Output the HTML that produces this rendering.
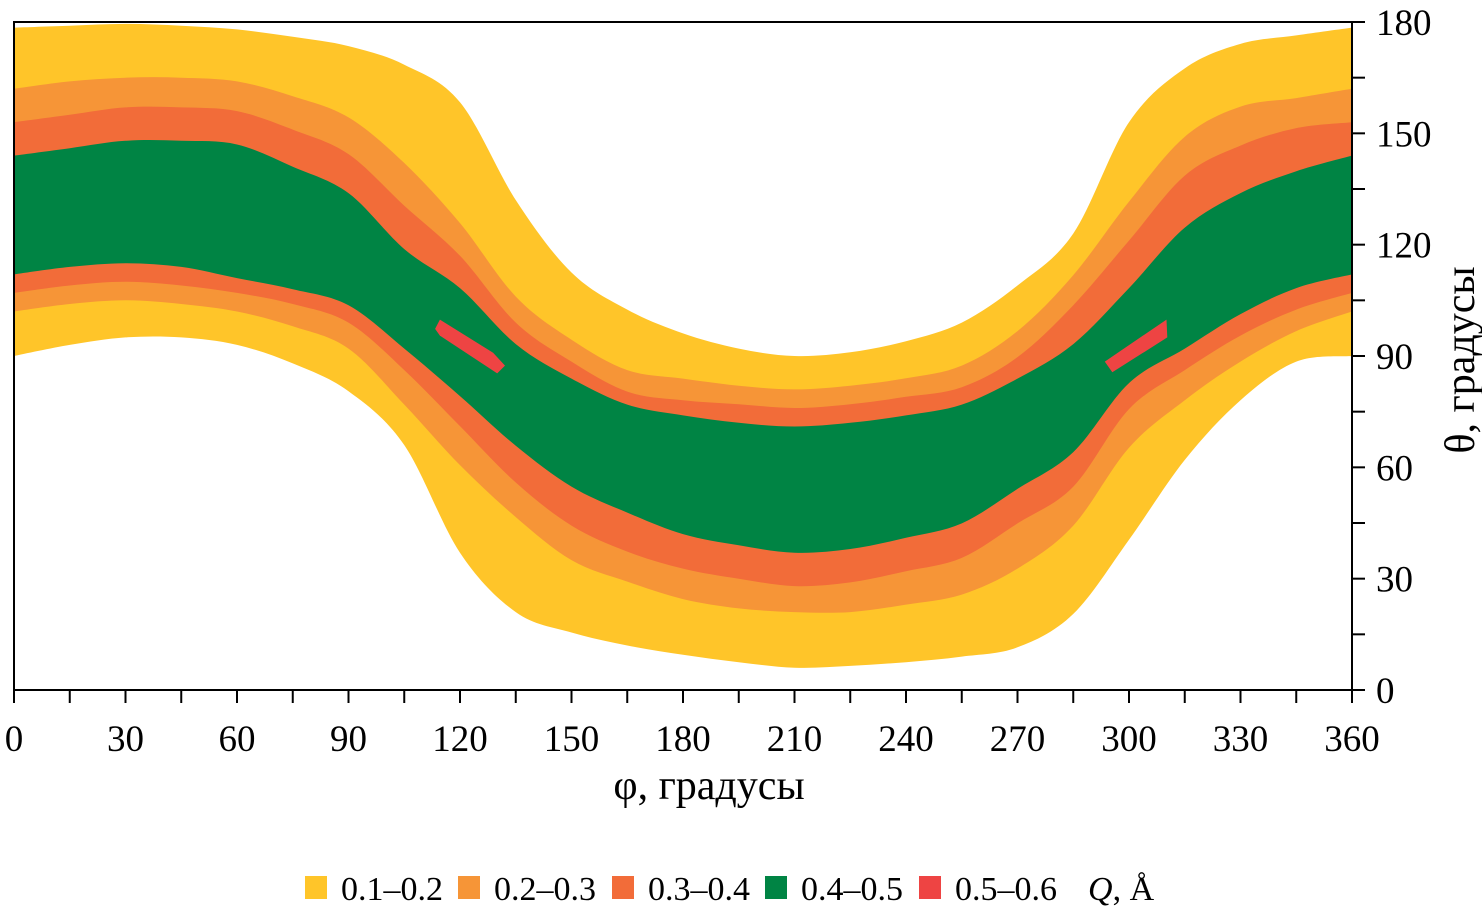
<!DOCTYPE html>
<html><head><meta charset="utf-8"><style>
html,body{margin:0;padding:0;background:#fff;}
svg{display:block;font-family:"Liberation Serif",serif;}
</style></head><body>
<svg id="chart" width="1482" height="911" viewBox="0 0 1482 911" xmlns="http://www.w3.org/2000/svg">
<g id="bands"></g>
<g id="axes"></g>
<g id="legend"></g>
</svg>
<script>
const phi = [0,15,30,45,60,75,90,105,120,135,150,165,180,195,210,225,240,255,270,285,300,315,330,345,360];
const yellowTop    = [178.5,179,179.5,179,178,176,173.5,168.5,158.4,132,112.5,102.5,96.1,92,90,91,94,99,109,123,153,167.5,174.1,176.4,178.5];
const orangeTop    = [162,164,165,165,164,160,154.3,142,125.8,106,94.4,86.2,83.9,82,81,82,84,87.4,96.7,111.8,131.6,149.1,157.2,159.5,162];
const redOrangeTop = [153,155,157,157,156,151,144.4,130.5,117,99,88.5,80.4,78.1,77,76,77,79,81.6,89.7,103.7,121.1,138.6,146.7,151.4,153];
const greenTop     = [144,146,148,148,147,141,133.9,118.8,108.3,93.2,83.9,76.9,74,72,71,72,74,76.9,83.9,93.2,108.3,124.6,133.9,139.8,144];
const greenBottom  = [112,114,115,114,111,108,103.7,92,79.2,65.8,54.8,47.8,42,39,37,38,41,44.9,54.2,64.1,82.7,92,101.3,108.3,112];
const redOrangeBottom = [107,109,110,109,107,104,99,86.2,71.1,55.9,44.3,37.3,32.7,30,28,29,32,35.6,44.9,54.8,75.7,86.2,95.5,102.5,107];
const orangeBottom = [102,104,105,104,102,98,92,76.9,60.6,46.6,35,29.2,24.5,22,21,21,23,25.7,32.7,44.3,65.3,78.1,88.5,96.7,102];
const yellowBottom = [90,93,95,95,93,88,80.5,66,37,21,15.5,12,9.5,7.5,6,6.5,7.5,9,11.5,20.5,40.5,62,78.1,88.5,90];
const peak1Phi = [113.3,114.6,128.9,132.1,130,114.6];
const peak1Theta = [97.3,99.8,90.9,87.4,85.3,95.5];
const peak2Phi = [293.5,310.1,310.3,295.5];
const peak2Theta = [88.5,99.8,95,85.6];
const xTicks = [0,30,60,90,120,150,180,210,240,270,300,330,360];
const yTicks = [0,30,60,90,120,150,180];
const legendLabels = ["0.1–0.2","0.2–0.3","0.3–0.4","0.4–0.5","0.5–0.6"];
const colors = ["#FFC529","#F69537","#F26C39","#008444","#EE4443"];

const X0=14, X1=1352, Y0=690, Y1=22;
const xs = v => X0 + v/360*(X1-X0);
const ys = v => Y0 - v/180*(Y0-Y1);
const NS="http://www.w3.org/2000/svg";
function mk(tag, attrs, parent){const e=document.createElementNS(NS,tag);for(const k in attrs)e.setAttribute(k,attrs[k]);parent.appendChild(e);return e;}

function spline(pts, first){
  let d = first ? 'M'+pts[0][0].toFixed(1)+','+pts[0][1].toFixed(1) : 'L'+pts[0][0].toFixed(1)+','+pts[0][1].toFixed(1);
  for(let i=0;i<pts.length-1;i++){
    const p0=pts[Math.max(i-1,0)], p1=pts[i], p2=pts[i+1], p3=pts[Math.min(i+2,pts.length-1)];
    const c1=[p1[0]+(p2[0]-p0[0])/6, p1[1]+(p2[1]-p0[1])/6];
    const c2=[p2[0]-(p3[0]-p1[0])/6, p2[1]-(p3[1]-p1[1])/6];
    d+=' C'+c1[0].toFixed(1)+','+c1[1].toFixed(1)+' '+c2[0].toFixed(1)+','+c2[1].toFixed(1)+' '+p2[0].toFixed(1)+','+p2[1].toFixed(1);
  }
  return d;
}

const bands=document.getElementById('bands');
function band(top,bot,color,name){
  const tp=phi.map((v,i)=>[xs(v),ys(top[i])]);
  const bp=phi.map((v,i)=>[xs(v),ys(bot[i])]).reverse();
  const d=spline(tp,true)+' '+spline(bp,false)+' Z';
  const p=mk('path',{d:d,fill:color},bands);
  
  
}
band(yellowTop,yellowBottom,colors[0],'band-0.1-0.2');
band(orangeTop,orangeBottom,colors[1],'band-0.2-0.3');
band(redOrangeTop,redOrangeBottom,colors[2],'band-0.3-0.4');
band(greenTop,greenBottom,colors[3],'band-0.4-0.5');
function peak(ph,th,name){
  const pts=ph.map((v,i)=>xs(v).toFixed(1)+','+ys(th[i]).toFixed(1));
  const p=mk('polygon',{points:pts.join(' '),fill:colors[4]},bands);
  
  
}
peak(peak1Phi,peak1Theta,'peak-0.5-0.6-left');
peak(peak2Phi,peak2Theta,'peak-0.5-0.6-right');

const ax=document.getElementById('axes');
const frame=mk('rect',{x:X0,y:Y1,width:X1-X0,height:Y0-Y1,fill:'none',stroke:'#000','stroke-width':2},ax);


for(let v=0;v<=360;v+=15){
  const t=mk('line',{x1:xs(v),x2:xs(v),y1:Y0,y2:Y0+13,stroke:'#000','stroke-width':2},ax);
  
  
}
for(let v=0;v<=180;v+=15){
  const t=mk('line',{x1:X1,x2:X1+13,y1:ys(v),y2:ys(v),stroke:'#000','stroke-width':2},ax);
  
  
}
xTicks.forEach(v=>{
  const t=mk('text',{x:xs(v),y:751,'font-size':37,'text-anchor':'middle'},ax);
  t.textContent=v;
  
  
});
yTicks.forEach(v=>{
  const t=mk('text',{x:1376,y:ys(v)+13,'font-size':37,'text-anchor':'start'},ax);
  t.textContent=v;
  
  
});
const xt=mk('text',{x:709,y:799,'font-size':42,'text-anchor':'middle'},ax);
xt.textContent='φ, градусы';


const yt=mk('text',{x:1474,y:360,'font-size':42,'text-anchor':'middle',transform:'rotate(-90 1474 360)'},ax);
yt.textContent='θ, градусы';



const lg=document.getElementById('legend');
const lx=[305,458,612,765,919];
legendLabels.forEach((l,i)=>{
  const r=mk('rect',{x:lx[i],y:876,width:22,height:23,fill:colors[i]},lg);
  
  
  const t=mk('text',{x:lx[i]+36,y:900,'font-size':34},lg);
  t.textContent=l;
  
  
});
const q=mk('text',{x:1088,y:900,'font-size':34},lg);
q.innerHTML='<tspan font-style="italic">Q</tspan>, Å';


</script>
</body></html>
